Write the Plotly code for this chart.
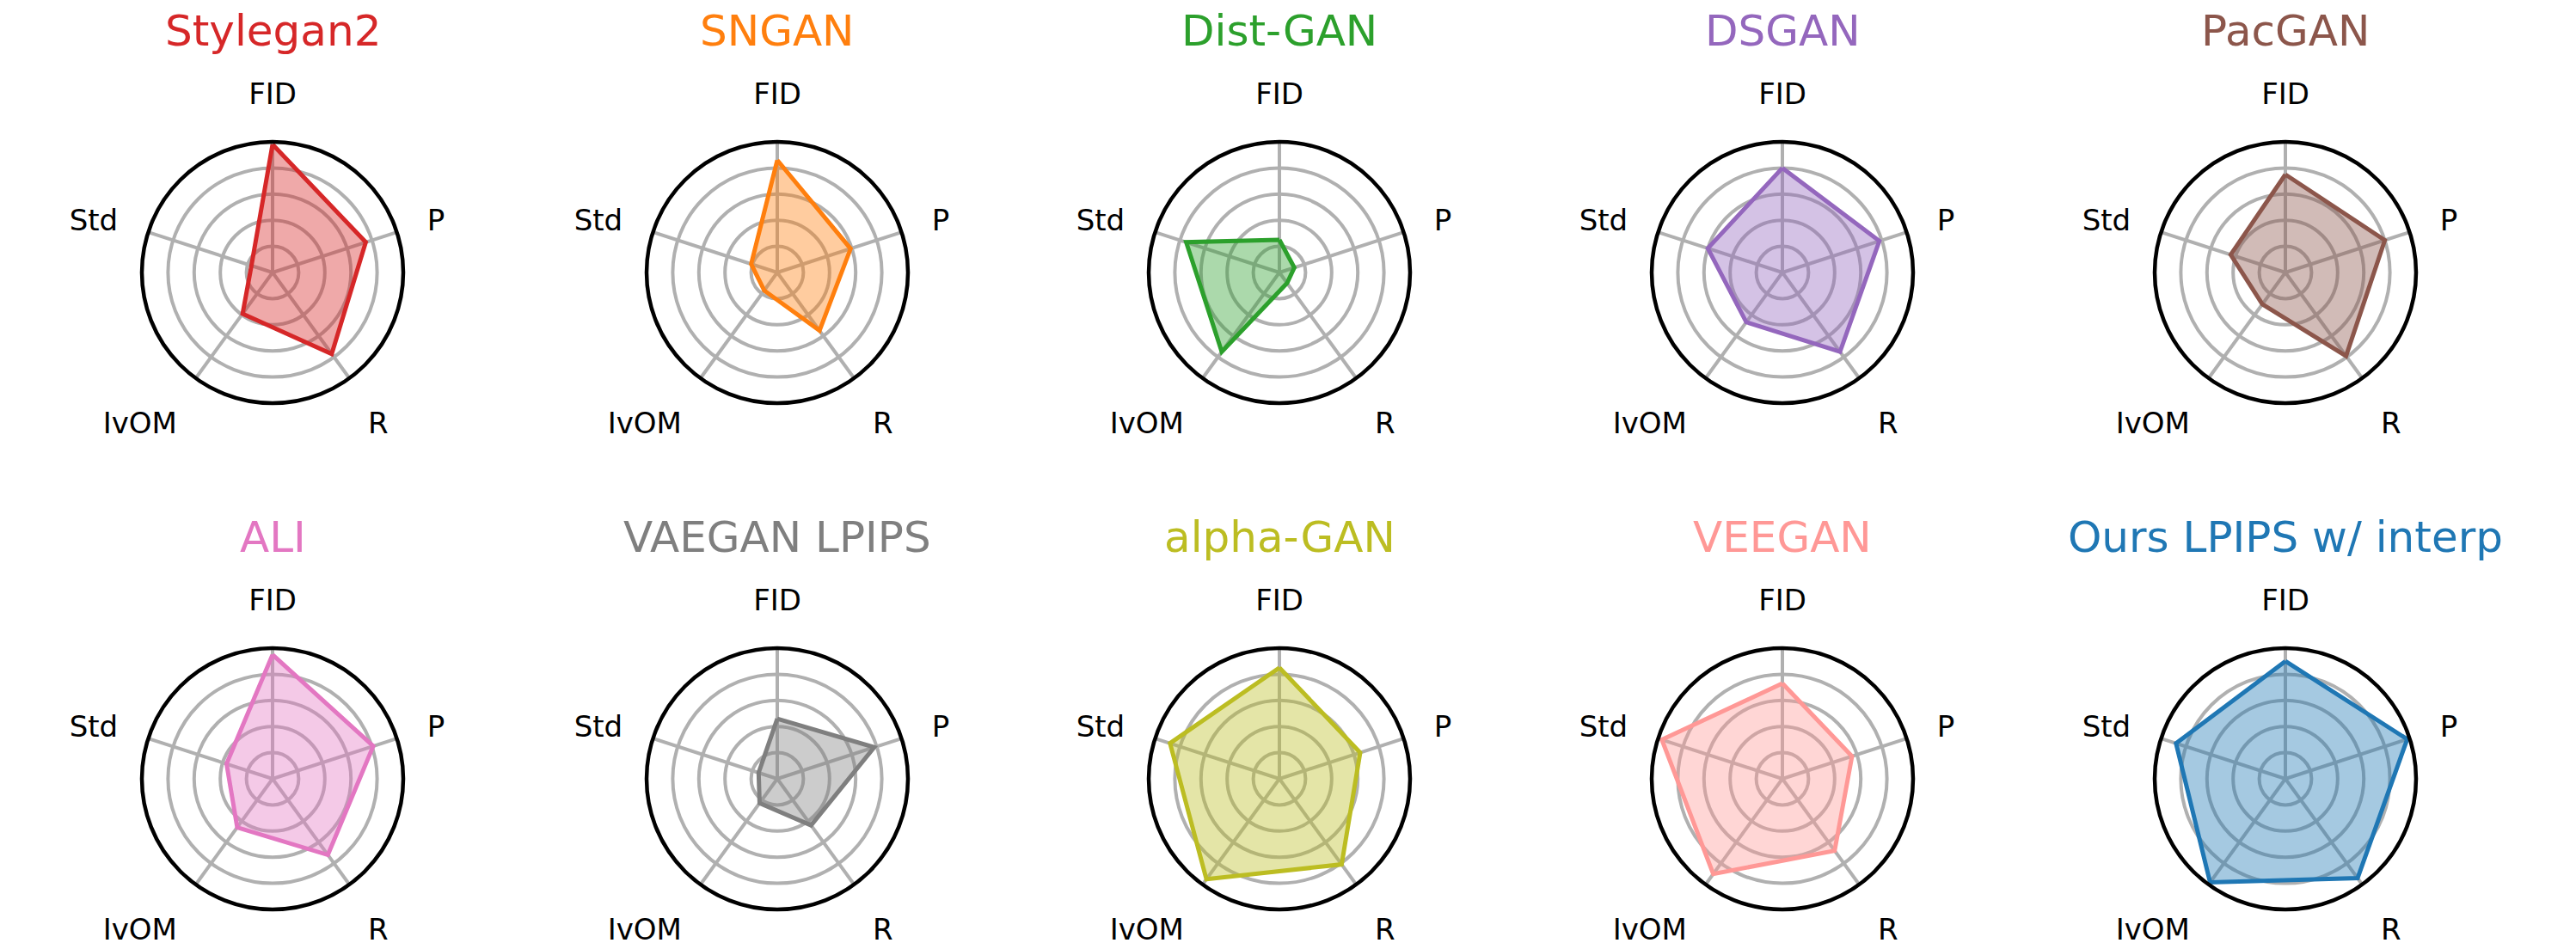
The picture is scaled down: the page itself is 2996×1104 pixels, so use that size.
import plotly.graph_objects as go

# ---------------- data ----------------
categories = ["FID", "P", "R", "IvOM", "Std"]

models = ["Stylegan2", "SNGAN", "Dist-GAN", "DSGAN", "PacGAN",
          "ALI", "VAEGAN LPIPS", "alpha-GAN", "VEEGAN", "Ours LPIPS w/ interp"]

stylegan2 = [0.98, 0.75, 0.77, 0.39, 0.17]
sngan = [0.86, 0.59, 0.55, 0.17, 0.21]
distgan = [0.25, 0.12, 0.10, 0.75, 0.75]
dsgan = [0.80, 0.78, 0.75, 0.47, 0.60]
pacgan = [0.75, 0.80, 0.79, 0.30, 0.44]
ali = [0.95, 0.81, 0.72, 0.46, 0.37]
vaegan_lpips = [0.46, 0.78, 0.44, 0.23, 0.15]
alpha_gan = [0.85, 0.65, 0.81, 0.95, 0.88]
veegan = [0.73, 0.56, 0.68, 0.90, 0.97]
ours = [0.90, 0.98, 0.94, 0.98, 0.88]

series = [stylegan2, sngan, distgan, dsgan, pacgan,
          ali, vaegan_lpips, alpha_gan, veegan, ours]

colors = ["#d62728", "#ff7f0e", "#2ca02c", "#9467bd", "#8c564b",
          "#e377c2", "#7f7f7f", "#bcbd22", "#ff9896", "#1f77b4"]

grid_ticks = [0.2, 0.4, 0.6, 0.8]

# ---------------- layout helpers ----------------
W, H = 2996, 1104
col_cx = [317, 904, 1488, 2073, 2658]
row_cy = [317, 906]
R = 152
title_y = [36, 625]


def hex_to_rgba(h, a):
    h = h.lstrip("#")
    r, g, b = int(h[0:2], 16), int(h[2:4], 16), int(h[4:6], 16)
    return f"rgba({r},{g},{b},{a})"


fig = go.Figure()
layout_polars = {}
annotations = []
font_family = "DejaVu Sans"

for i, (name, vals, col) in enumerate(zip(models, series, colors)):
    row, c = divmod(i, 5)
    cx, cy = col_cx[c], row_cy[row]
    key = "polar" if i == 0 else f"polar{i + 1}"
    subplot = "polar" if i == 0 else f"polar{i + 1}"
    fig.add_trace(go.Scatterpolar(
        r=vals + [vals[0]],
        theta=categories + [categories[0]],
        mode="lines",
        fill="toself",
        fillcolor=hex_to_rgba(col, 0.4),
        line=dict(color=col, width=5),
        subplot=subplot,
        showlegend=False,
        hoverinfo="skip",
    ))
    layout_polars[key] = dict(
        domain=dict(x=[(cx - R) / W, (cx + R) / W],
                    y=[(H - cy - R) / H, (H - cy + R) / H]),
        bgcolor="white",
        radialaxis=dict(range=[0, 1], tickvals=grid_ticks, showticklabels=False,
                        ticks="", showline=False, gridcolor="#b0b0b0", gridwidth=4,
                        layer="above traces"),
        angularaxis=dict(type="category", categoryarray=categories,
                         rotation=90, direction="clockwise",
                         showline=True, linecolor="black", linewidth=4.5,
                         gridcolor="#b0b0b0", gridwidth=4,
                         ticks="outside", ticklen=28, tickcolor="rgba(0,0,0,0)",
                         tickfont=dict(size=34, color="black", family=font_family),
                         layer="above traces"),
    )
    annotations.append(dict(
        text=name, x=cx / W, y=1 - title_y[row] / H, xref="paper", yref="paper",
        xanchor="center", yanchor="middle", showarrow=False,
        font=dict(size=50, color=col, family=font_family),
    ))

fig.update_layout(
    width=W, height=H,
    margin=dict(l=0, r=0, t=0, b=0),
    paper_bgcolor="white",
    plot_bgcolor="white",
    annotations=annotations,
    **layout_polars,
)

fig.write_html(
    "out.html",
    config={"displayModeBar": False},
    post_script="document.body.style.margin='0';document.body.style.overflow='hidden';",
)
